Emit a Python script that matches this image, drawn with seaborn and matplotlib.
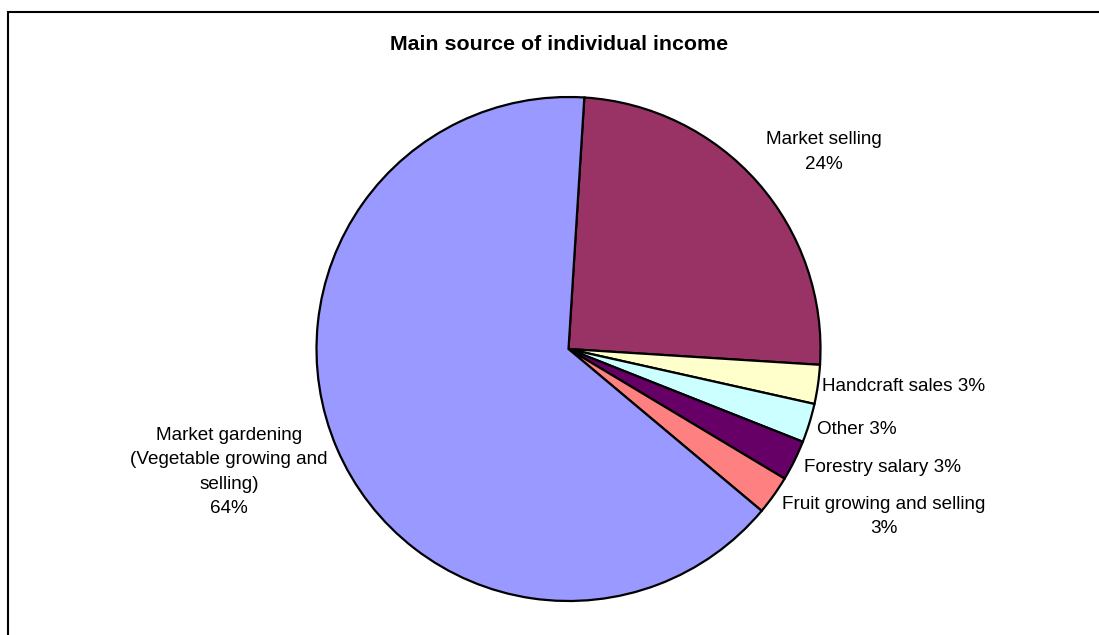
"""
Pie chart: main source of individual income.
"""

import numpy as np
import matplotlib
matplotlib.use("Agg")
import matplotlib.pyplot as plt
import seaborn as sns
from matplotlib.patches import Rectangle

# --- data (clockwise from the top) ---
categories = [
    "Market selling",
    "Handcraft sales",
    "Other",
    "Forestry salary",
    "Fruit growing and selling",
    "Market gardening\n(Vegetable growing and\nselling)",
]
shares = [25.0, 2.5, 2.5, 2.6, 2.5, 64.9]
pct_labels = ["24%", "3%", "3%", "3%", "3%", "64%"]
colors = ["#993366", "#FFFFCC", "#CCFFFF", "#660066", "#FF8080", "#9999FF"]

# label placement (pie radius = 1), separator between name and percent
label_pos = [(1.014, 0.782), (1.005, -0.147), (0.985, -0.321),
             (0.933, -0.472), (1.252, -0.663), (-1.347, -0.488)]
label_ha = ["center", "left", "left", "left", "center", "center"]
label_sep = ["\n", " ", " ", " ", "\n", "\n"]

W, H = 1099, 635
CX, CY, R = 568.5, 349, 252  # pie centre / radius in pixels

sns.set_theme(style="white")
plt.rcParams["font.family"] = ["Liberation Sans", "DejaVu Sans"]

fig = plt.figure(figsize=(W / 100, H / 100), dpi=100)
fig.patch.set_facecolor("white")
ax = fig.add_axes([0, 0, 1, 1])

ax.pie(
    shares,
    colors=colors,
    startangle=90 - 3.6,
    counterclock=False,
    radius=1.0,
    wedgeprops=dict(edgecolor="black", linewidth=1.6),
)

# map figure pixels to data units so the pie lands where it does in the reference
ax.set_xlim(-CX / R, (W - CX) / R)
ax.set_ylim((CY - H) / R, CY / R)
ax.set_aspect("auto")
ax.axis("off")

for name, pct, (x, y), ha, sep in zip(categories, pct_labels, label_pos,
                                      label_ha, label_sep):
    ax.text(x, y, f"{name}{sep}{pct}", ha=ha, va="center",
            multialignment="center", fontsize=13.6, color="black",
            linespacing=1.55)

fig.text(559 / W, 1 - 45 / H, "Main source of individual income",
         ha="center", va="center", fontsize=15.4, fontweight="bold",
         color="black")

# chart border (runs off the right and bottom edges)
fig.patches.append(Rectangle((8 / W, -0.1), 1.2, 1.1 - 12 / H,
                             transform=fig.transFigure, fill=False,
                             edgecolor="black", linewidth=1.5))

fig.savefig("out.png", dpi=100)
